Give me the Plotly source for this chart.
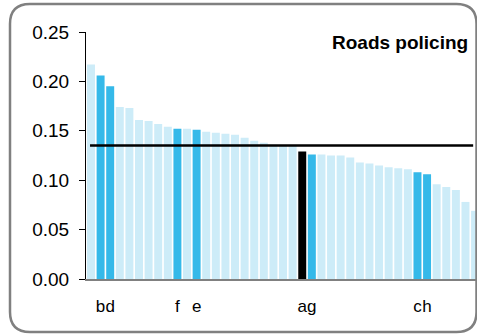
import plotly.graph_objects as go

# ---- data ----
values = [0.217, 0.206, 0.195, 0.174, 0.173, 0.161, 0.160, 0.157, 0.154, 0.152,
          0.152, 0.151, 0.149, 0.148, 0.147, 0.146, 0.143, 0.140, 0.138, 0.136,
          0.135, 0.135, 0.129, 0.126, 0.126, 0.125, 0.125, 0.123, 0.118, 0.117,
          0.115, 0.113, 0.112, 0.111, 0.108, 0.106, 0.096, 0.093, 0.090, 0.078,
          0.069]
labels = ["", "b", "d", "", "", "", "", "", "", "f",
          "", "e", "", "", "", "", "", "", "", "",
          "", "", "a", "g", "", "", "", "", "", "",
          "", "", "", "", "c", "h", "", "", "", "",
          ""]
average = 0.135
title = "Roads policing"
y_ticks = [0.00, 0.05, 0.10, 0.15, 0.20, 0.25]

LIGHT = "#CDECF8"
DARK = "#35B9E9"
BLACK = "#000000"

x = list(range(len(values)))
colors = [BLACK if l == "a" else (DARK if l else LIGHT) for l in labels]
tickvals = [i for i, l in enumerate(labels) if l]
ticktext = [labels[i] for i in tickvals]

W, H = 477, 334
ML, MR, MT, MB = 86, 0, 32, 55
PW, PH = W - ML - MR, H - MT - MB


def px(xp):
    return (xp - ML) / PW


def py(yp):
    return (H - MB - yp) / PH


FONT = "Liberation Sans, Arial, sans-serif"

fig = go.Figure()
fig.add_trace(go.Bar(x=x, y=values, marker=dict(color=colors, line=dict(width=0)),
                     showlegend=False))

# average line
fig.add_shape(type="line", xref="x", yref="y", x0=-0.1, x1=39.8, y0=average, y1=average,
              line=dict(color="black", width=2.5), layer="above")

# rounded border
x0, x1, y0, y1, r = 10, 476.5, 4, 332, 20
path = (f"M {px(x0 + r)},{py(y0)} L {px(x1 - r)},{py(y0)} "
        f"Q {px(x1)},{py(y0)} {px(x1)},{py(y0 + r)} "
        f"L {px(x1)},{py(y1 - r)} Q {px(x1)},{py(y1)} {px(x1 - r)},{py(y1)} "
        f"L {px(x0 + r)},{py(y1)} Q {px(x0)},{py(y1)} {px(x0)},{py(y1 - r)} "
        f"L {px(x0)},{py(y0 + r)} Q {px(x0)},{py(y0)} {px(x0 + r)},{py(y0)} Z")
fig.add_shape(type="path", xref="paper", yref="paper", path=path,
              line=dict(color="#808080", width=2.5), layer="above")

fig.add_annotation(text=f"<b>{title}</b>", xref="paper", yref="paper",
                   x=px(470), y=py(42), xanchor="right", yanchor="middle",
                   showarrow=False, font=dict(family=FONT, size=19, color="black"))

fig.update_layout(
    width=W, height=H,
    margin=dict(l=ML, r=MR, t=MT, b=MB),
    paper_bgcolor="white", plot_bgcolor="white",
    bargap=0.17,
    font=dict(family=FONT, color="black"),
)
fig.update_xaxes(range=[-0.52, 40.2], tickvals=tickvals, ticktext=ticktext,
                 tickangle=0,
                 showgrid=False, zeroline=False, showline=True, linecolor="#808080",
                 linewidth=2, ticks="outside", ticklen=11, tickcolor="rgba(0,0,0,0)",
                 tickfont=dict(family=FONT, size=17, color="black"))
fig.update_yaxes(range=[0, 0.25], tickvals=y_ticks, tickformat=".2f",
                 showgrid=False, zeroline=False, showline=True, linecolor="black",
                 linewidth=1, ticks="outside", ticklen=6, tickcolor="black",
                 ticklabelstandoff=6,
                 tickfont=dict(family=FONT, size=19, color="black"))

fig.write_html("out.html", config={"displayModeBar": False},
               post_script="document.body.style.margin='0';document.body.style.overflow='hidden';")
